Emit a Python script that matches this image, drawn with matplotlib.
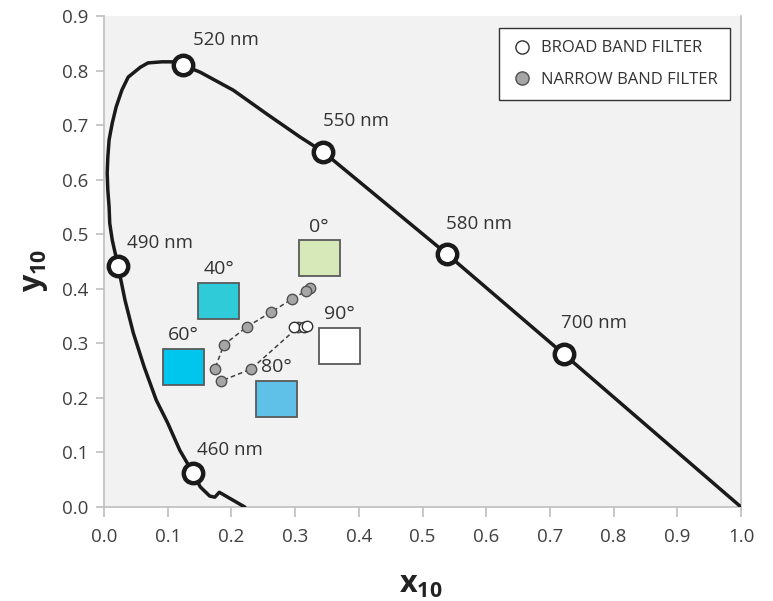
import matplotlib
matplotlib.use("Agg")
import matplotlib.pyplot as plt
from matplotlib.patches import Rectangle
from matplotlib.lines import Line2D

plt.rcParams['font.family'] = ['Open Sans', 'DejaVu Sans']
plt.rcParams['mathtext.fontset'] = 'custom'
plt.rcParams['mathtext.rm'] = 'Open Sans'
plt.rcParams['mathtext.bf'] = 'Open Sans:bold'

# Spectral locus
locus_x = [0.221, 0.181, 0.174, 0.166, 0.151, 0.140, 0.119, 0.100, 0.082, 0.063,
           0.046, 0.033, 0.022, 0.013, 0.009, 0.008, 0.006, 0.005, 0.006, 0.008,
           0.013, 0.019, 0.028, 0.038, 0.057, 0.069, 0.091, 0.107, 0.124, 0.151,
           0.203, 0.256, 0.308, 0.344, 0.538, 0.722, 1.0]
locus_y = [0.0, 0.027, 0.018, 0.020, 0.037, 0.062, 0.104, 0.154, 0.196, 0.257,
           0.319, 0.379, 0.442, 0.489, 0.520, 0.550, 0.581, 0.612, 0.641, 0.673,
           0.704, 0.733, 0.764, 0.788, 0.806, 0.814, 0.816, 0.816, 0.810, 0.797,
           0.764, 0.720, 0.678, 0.651, 0.464, 0.280, 0.0]

# Wavelength markers
wl_labels = ['460 nm', '490 nm', '520 nm', '550 nm', '580 nm', '700 nm']
wl_x = [0.140, 0.022, 0.124, 0.344, 0.538, 0.722]
wl_y = [0.062, 0.442, 0.810, 0.651, 0.464, 0.280]

# Filter measurements
narrow_x = [0.323, 0.317, 0.295, 0.262, 0.224, 0.188, 0.174, 0.184, 0.231, 0.305]
narrow_y = [0.401, 0.396, 0.381, 0.357, 0.330, 0.297, 0.253, 0.231, 0.253, 0.330]
broad_x = [0.298, 0.314, 0.319]
broad_y = [0.330, 0.330, 0.332]

# Colour swatches for angles
angle_labels = ['0°', '40°', '60°', '80°', '90°']
swatch_x = [0.306, 0.148, 0.093, 0.239, 0.338]
swatch_y = [0.423, 0.345, 0.224, 0.165, 0.262]
swatch_colors = ['#d7e9b9', '#30cbd8', '#00c6ee', '#5fc1e8', '#ffffff']

fig = plt.figure(figsize=(7.73, 6.01), dpi=100)
ax = fig.add_axes([104/773, 1-507/601, 637/773, 491/601])
ax.set_facecolor('#f2f2f2')
ax.set_xlim(0, 1.0)
ax.set_ylim(0, 0.9)

ax.spines['top'].set_visible(False)
for s in ['left', 'bottom', 'right']:
    ax.spines[s].set_color('#bfbfbf')
    ax.spines[s].set_linewidth(1.2)

ax.set_xticks([i/10 for i in range(11)])
ax.set_yticks([i/10 for i in range(10)])
ax.set_xticklabels([f'{i/10:.1f}' for i in range(11)])
ax.set_yticklabels([f'{i/10:.1f}' for i in range(10)])
ax.tick_params(axis='x', length=7, color='#bfbfbf', width=1.2, labelsize=13.5,
               labelcolor='#404040', pad=8)
ax.tick_params(axis='y', length=6, color='#bfbfbf', width=1.2, labelsize=13.5,
               labelcolor='#404040', pad=5)

ax.plot(locus_x, locus_y, color='#1a1a1a', lw=2.5, solid_joinstyle='round',
        solid_capstyle='round', zorder=3)
ax.plot(wl_x, wl_y, 'o', ms=14, mfc='white', mec='#1a1a1a', mew=3.2, ls='none', zorder=4)

offsets = {'460 nm': (0.006, 0.042), '490 nm': (0.014, 0.042), '520 nm': (0.016, 0.046),
           '550 nm': (0.0, 0.056), '580 nm': (-0.001, 0.055), '700 nm': (-0.005, 0.057)}
for lab, x, y in zip(wl_labels, wl_x, wl_y):
    dx, dy = offsets[lab]
    ax.text(x + dx, y + dy, lab, ha='left', va='center', fontsize=13.5, color='#333333', zorder=5)

for lab, x, y, c in zip(angle_labels, swatch_x, swatch_y, swatch_colors):
    ax.add_patch(Rectangle((x, y), 0.064, 0.066, facecolor=c, edgecolor='#5a5a5a',
                           lw=1.3, zorder=3))
    ax.text(x + 0.032, y + 0.066 + 0.025, lab, ha='center', va='center', fontsize=14,
            color='#333333', zorder=5)

ax.plot(narrow_x, narrow_y, ls=(0, (3, 2)), color='#404040', lw=1.1, zorder=5)
ax.plot(narrow_x, narrow_y, 'o', ms=7.5, mfc='#a6a6a6', mec='#505050', mew=1.0,
        ls='none', zorder=6)
ax.plot(broad_x, broad_y, 'o', ms=7.5, mfc='white', mec='#303030', mew=1.0,
        ls='none', zorder=7)

handles = [Line2D([], [], marker='o', ls='none', ms=9.5, mfc='white', mec='#303030', mew=1.0),
           Line2D([], [], marker='o', ls='none', ms=9.5, mfc='#a6a6a6', mec='#505050', mew=1.0)]
leg = ax.legend(handles, ['BROAD BAND FILTER', 'NARROW BAND FILTER'],
                loc='upper right', bbox_to_anchor=(626/637, 1-12/491),
                borderaxespad=0, fontsize=12, frameon=True, fancybox=False,
                labelspacing=0.9, handletextpad=0.45, borderpad=0.75, handlelength=1.3,
                labelcolor='#333333')
leg.get_frame().set_edgecolor('#333333')
leg.get_frame().set_linewidth(1.0)
leg.get_frame().set_facecolor('white')
leg.get_frame().set_alpha(1)
leg.set_zorder(10)

fig.text(421/773, 1-585/601, r'$\mathbf{x_{10}}$', ha='center', va='center',
         fontsize=22, color='#222222')
fig.text(35/773, 1-270/601, r'$\mathbf{y_{10}}$', ha='center', va='center',
         fontsize=22, color='#222222', rotation=90)

fig.savefig('out.png', dpi=100, facecolor='white')
